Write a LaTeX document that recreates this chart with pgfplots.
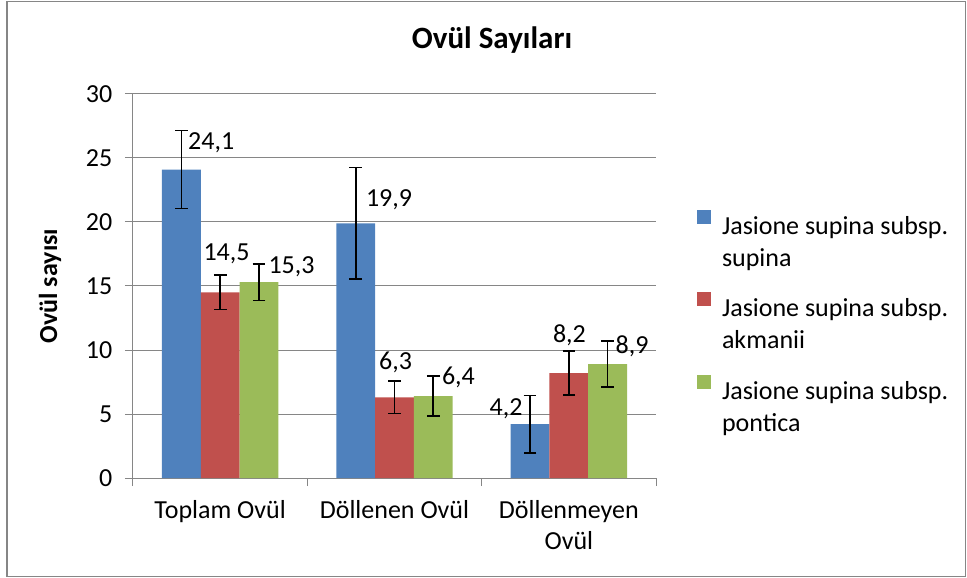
\documentclass[border=0pt]{standalone}
\usepackage{pgfplots}
\pgfplotsset{compat=1.18}
\usepackage{fontspec}
\setmainfont{Carlito}
\definecolor{cblue}{HTML}{4F81BD}
\definecolor{cred}{HTML}{C0504D}
\definecolor{cgreen}{HTML}{9BBB59}
\definecolor{cgrid}{HTML}{868686}
\newcommand{\lf}{\fontsize{19.5}{23.8}\selectfont}
\begin{document}
\begin{tikzpicture}
\useasboundingbox (-99.75pt,-75pt) rectangle (625.5pt,358.5pt);
\draw[cgrid, line width=0.9pt] (-94.5pt,-73.9pt) rectangle (624.4pt,357.4pt);
\node[anchor=base, font=\fontsize{23.25}{28}\selectfont\bfseries] at (269.25pt,321.75pt) {Ovül Sayıları};
\begin{axis}[
  scale only axis, width=392.25pt, height=288pt,
  xmin=-0.5, xmax=2.5, ymin=0, ymax=30,
  ytick={0,5,...,30},
  xtick={0,1,2},
  xticklabels={Toplam Ovül, Döllenen Ovül, {Döllenmeyen\\Ovül}},
  minor xtick={-0.5,0.5,1.5,2.5},
  major x tick style={draw=none},
  minor x tick style={draw=cgrid, line width=0.75pt},
  major y tick style={draw=cgrid, line width=0.75pt},
  tick align=outside, major tick length=6pt, minor tick length=6pt,
  axis x line*=bottom, axis y line*=left,
  axis line style={draw=cgrid, line width=0.75pt, -},
  ymajorgrids, major grid style={draw=cgrid, line width=0.75pt},
  tick label style={font=\lf},
  /pgf/number format/assume math mode=true,
  xticklabel style={align=center, yshift=-7pt},
  yticklabel style={xshift=-6pt},
  ylabel={Ovül sayısı},
  ylabel style={font=\lf\bfseries, at={(axis description cs:-0.1587,0.5)}, anchor=center, rotate=0},
  clip=false,
  ybar, bar width=0.2225,
  legend image code/.code={\fill[#1] (0pt,0.25pt) rectangle (10.5pt,10.75pt);},
  legend style={draw=none, fill=none, font=\lf, inner sep=0pt, outer sep=0pt,
    at={(rel axis cs:1.0784,0.6978)}, anchor=north west, row sep=42pt,
    nodes={inner sep=0pt},
    /tikz/every odd column/.append style={column sep=8.25pt}},
  legend cell align=left,
  error bars/y dir=both, error bars/y explicit,
  error bars/error bar style={black, line width=1.2pt},
  error bars/error mark options={black, line width=1.2pt, mark size=4.75pt, rotate=90},
]
\addplot[fill=cblue, draw=none, bar shift=-0.2225] coordinates {(0,24.1) +- (0,3.05) (1,19.9) +- (0,4.35) (2,4.2) +- (0,2.24)};
\addlegendentry{\parbox[t]{220pt}{\strut Jasione supina subsp.\\\strut supina}}
\addplot[fill=cred, draw=none, bar shift=0] coordinates {(0,14.5) +- (0,1.34) (1,6.3) +- (0,1.27) (2,8.2) +- (0,1.72)};
\addlegendentry{\parbox[t]{220pt}{\strut Jasione supina subsp.\\\strut akmanii}}
\addplot[fill=cgreen, draw=none, bar shift=0.2225] coordinates {(0,15.3) +- (0,1.42) (1,6.4) +- (0,1.56) (2,8.9) +- (0,1.8)};
\addlegendentry{\parbox[t]{220pt}{\strut Jasione supina subsp.\\\strut pontica}}
\begin{scope}[every node/.style={anchor=base west, inner sep=0pt, font=\lf}]
\node at (axis cs:-0.185,25.63) {24,1};
\node at (axis cs:-0.097,17.03) {14,5};
\node at (axis cs:0.276,15.99) {15,3};
\node at (axis cs:0.835,21.2) {19,9};
\node at (axis cs:0.91,8.44) {6,3};
\node at (axis cs:1.271,7.27) {6,4};
\node at (axis cs:1.544,4.92) {4,2};
\node at (axis cs:1.908,10.57) {8,2};
\node at (axis cs:2.267,9.74) {8,9};
\end{scope}
\end{axis}
\end{tikzpicture}
\end{document}
